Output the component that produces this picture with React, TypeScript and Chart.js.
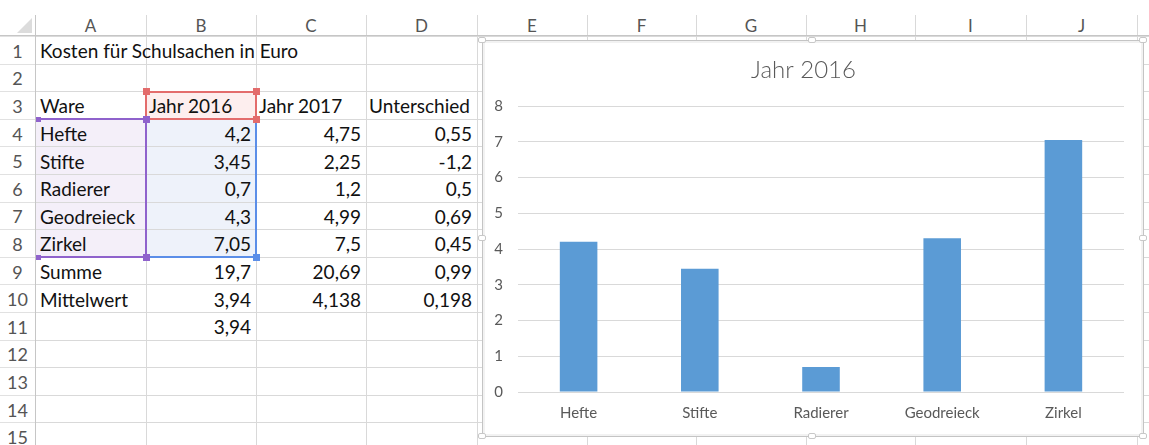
import React, { useEffect, useRef } from "react";
import { Chart, registerables } from "chart.js";

Chart.register(...registerables);

// ---- data ----
const categories = ["Hefte", "Stifte", "Radierer", "Geodreieck", "Zirkel"];
const jahr2016 = [4.2, 3.45, 0.7, 4.3, 7.05];
const jahr2017 = [4.75, 2.25, 1.2, 4.99, 7.5];
const unterschied = [0.55, -1.2, 0.5, 0.69, 0.45];
const summe = [19.7, 20.69, 0.99];
const mittelwert = [3.94, 4.138, 0.198];
const extraB11 = 3.94;
const headerRow = ["Ware", "Jahr 2016", "Jahr 2017", "Unterschied"];
const sheetTitle = "Kosten für Schulsachen in Euro";
const chartTitle = "Jahr 2016";
const columnLetters = ["A", "B", "C", "D", "E", "F", "G", "H", "I", "J", "K"];
const yMin = 0;
const yMax = 8;
const yStep = 1;

// ---- layout (pixels) ----
const COLS = [0, 35, 146, 256, 366, 477, 587, 696, 806, 915, 1026, 1137, 1247];
const HEAD_TOP = 15;
const HEAD_BOTTOM = 36;
const ROW_H = 27.6;
const rowTop = (r: number) => HEAD_BOTTOM + (r - 1) * ROW_H;
const CELL_FONT = "Lato, 'Open Sans', sans-serif";

const fmt = (v: number) => String(v).replace(".", ",");

type Cell = { r: number; c: number; text: string; align: "left" | "right" };

function buildCells(): Cell[] {
  const cells: Cell[] = [];
  cells.push({ r: 1, c: 1, text: sheetTitle, align: "left" });
  headerRow.forEach((h, i) => cells.push({ r: 3, c: i + 1, text: h, align: "left" }));
  categories.forEach((cat, i) => {
    const r = 4 + i;
    cells.push({ r, c: 1, text: cat, align: "left" });
    cells.push({ r, c: 2, text: fmt(jahr2016[i]), align: "right" });
    cells.push({ r, c: 3, text: fmt(jahr2017[i]), align: "right" });
    cells.push({ r, c: 4, text: fmt(unterschied[i]), align: "right" });
  });
  cells.push({ r: 9, c: 1, text: "Summe", align: "left" });
  summe.forEach((v, i) => cells.push({ r: 9, c: 2 + i, text: fmt(v), align: "right" }));
  cells.push({ r: 10, c: 1, text: "Mittelwert", align: "left" });
  mittelwert.forEach((v, i) => cells.push({ r: 10, c: 2 + i, text: fmt(v), align: "right" }));
  cells.push({ r: 11, c: 2, text: fmt(extraB11), align: "right" });
  return cells;
}

function Handle({ x, y, color, size = 7 }: { x: number; y: number; color: string; size?: number }) {
  return (
    <div
      style={{
        position: "absolute",
        left: x - size / 2,
        top: y - size / 2,
        width: size,
        height: size,
        background: color,
        zIndex: 5,
      }}
    />
  );
}

function FrameHandle({ x, y }: { x: number; y: number }) {
  return (
    <div
      style={{
        position: "absolute",
        left: x - 4,
        top: y - 3,
        width: 8,
        height: 6,
        background: "#fff",
        border: "1px solid #c8c8c8",
        borderRadius: 2,
        boxSizing: "border-box",
        zIndex: 12,
      }}
    />
  );
}

function BarChart() {
  const ref = useRef<HTMLCanvasElement | null>(null);
  useEffect(() => {
    if (!ref.current) return;
    const yTicks: number[] = [];
    for (let v = yMin; v <= yMax; v += yStep) yTicks.push(v);
    const chart = new Chart(ref.current, {
      type: "bar",
      data: {
        labels: categories,
        datasets: [
          {
            label: chartTitle,
            data: jahr2016,
            backgroundColor: "#5b9bd5",
            borderWidth: 0,
            barPercentage: 0.31,
            categoryPercentage: 1,
          },
        ],
      },
      options: {
        animation: false,
        responsive: false,
        maintainAspectRatio: false,
        layout: { padding: { left: 0, right: 18, top: 0, bottom: 0 } },
        plugins: {
          legend: { display: false },
          tooltip: { enabled: false },
          title: {
            display: true,
            text: chartTitle,
            color: "#595959",
            font: { family: CELL_FONT, size: 24, weight: "300" as any },
            padding: { top: 15, bottom: 21.2 },
          },
        },
        scales: {
          x: {
            grid: { display: false, drawTicks: false },
            border: { display: false },
            ticks: {
              color: "#595959",
              font: { family: CELL_FONT, size: 15 },
              padding: 12,
              maxRotation: 0,
            },
            afterFit: (s: any) => {
              s.height = 43;
            },
          },
          y: {
            min: yMin,
            max: yMax,
            afterBuildTicks: (s: any) => {
              s.ticks = yTicks.map((v) => ({ value: v }));
            },
            ticks: {
              color: "#595959",
              font: { family: CELL_FONT, size: 15 },
              padding: 15,
            },
            grid: { color: "#d9d9d9", lineWidth: 1, drawTicks: false },
            border: { display: false },
            afterFit: (s: any) => {
              s.width = 35;
            },
          },
        },
      },
    });
    return () => chart.destroy();
  }, []);
  return (
    <canvas
      ref={ref}
      width={659}
      height={394}
      style={{ position: "absolute", left: 0, top: 0, width: 659, height: 394 }}
    />
  );
}

export default function App() {
  const cells = buildCells();
  const rowNums = Array.from({ length: 15 }, (_, i) => i + 1);
  const lines: React.ReactNode[] = [];

  // horizontal gridlines
  for (let r = 1; r <= 16; r++) {
    const y = Math.round(rowTop(r));
    lines.push(
      <div key={"h" + r} style={{ position: "absolute", left: 35, top: y, width: 1149 - 35, height: 1, background: "#d9d9d9" }} />
    );
    lines.push(
      <div key={"hr" + r} style={{ position: "absolute", left: 0, top: y, width: 35, height: 1, background: "#e1e1e1" }} />
    );
  }
  // vertical gridlines
  COLS.slice(1).forEach((x, i) => {
    lines.push(
      <div key={"v" + i} style={{ position: "absolute", left: x, top: HEAD_TOP, width: 1, height: 445 - HEAD_TOP, background: i === 0 ? "#c6c6c6" : "#d9d9d9" }} />
    );
  });
  // header bottom
  lines.push(
    <div key="hb" style={{ position: "absolute", left: 0, top: HEAD_BOTTOM - 1, width: 1149, height: 1, background: "#c6c6c6" }} />
  );

  return (
    <div
      style={{
        position: "fixed",
        left: 0,
        top: 0,
        width: 1149,
        height: 445,
        overflow: "hidden",
        background: "#fff",
        fontFamily: CELL_FONT,
      }}
    >
      {/* fills */}
      <div style={{ position: "absolute", left: 36, top: rowTop(4), width: 110, height: ROW_H * 5, background: "#f4eff9" }} />
      <div style={{ position: "absolute", left: 146, top: rowTop(4), width: 110, height: ROW_H * 5, background: "#eef2fa" }} />
      <div style={{ position: "absolute", left: 146, top: rowTop(3), width: 110, height: ROW_H, background: "#fdeeee" }} />

      {lines}

      {/* top-left corner triangle */}
      <div
        style={{
          position: "absolute",
          left: 17,
          top: 18,
          width: 0,
          height: 0,
          borderLeft: "15px solid transparent",
          borderBottom: "15px solid #dcdcdc",
        }}
      />

      {/* column letters */}
      {columnLetters.map((l, i) => (
        <div
          key={l}
          style={{
            position: "absolute",
            left: COLS[i + 1],
            top: HEAD_TOP,
            width: COLS[i + 2] - COLS[i + 1],
            height: HEAD_BOTTOM - HEAD_TOP,
            display: "flex",
            alignItems: "center",
            justifyContent: "center",
            fontSize: 17,
            color: "#555",
          }}
        >
          {l}
        </div>
      ))}

      {/* row numbers */}
      {rowNums.map((n) => (
        <div
          key={n}
          style={{
            position: "absolute",
            left: 0,
            top: rowTop(n),
            width: 35,
            height: ROW_H,
            display: "flex",
            alignItems: "center",
            justifyContent: "center",
            paddingTop: 2,
            boxSizing: "border-box",
            fontSize: 18,
            color: "#555",
          }}
        >
          {n}
        </div>
      ))}

      {/* cells */}
      {cells.map((cell, i) => {
        const left = COLS[cell.c];
        const w = COLS[cell.c + 1] - left;
        return (
          <div
            key={i}
            style={{
              position: "absolute",
              left,
              top: rowTop(cell.r),
              width: cell.align === "left" ? 400 : w,
              height: ROW_H,
              display: "flex",
              alignItems: "center",
              justifyContent: cell.align === "left" ? "flex-start" : "flex-end",
              paddingLeft: cell.align === "left" ? (cell.c === 1 ? 5 : 3) : 0,
              paddingRight: cell.align === "right" ? 5 : 0,
              paddingTop: 2,
              boxSizing: "border-box",
              fontSize: 19,
              color: "#111",
              whiteSpace: "nowrap",
              zIndex: 3,
            }}
          >
            {cell.text}
          </div>
        );
      })}

      {/* selection borders */}
      <div
        style={{
          position: "absolute",
          left: 145,
          top: Math.round(rowTop(3)),
          width: 112,
          height: Math.round(rowTop(4)) - Math.round(rowTop(3)) + 1,
          border: "2px solid #e36c6c",
          boxSizing: "border-box",
          zIndex: 4,
        }}
      />
      <div style={{ position: "absolute", left: 255, top: Math.round(rowTop(4)), width: 2, height: Math.round(rowTop(9)) - Math.round(rowTop(4)) + 1, background: "#5b8ee8", zIndex: 4 }} />
      <div style={{ position: "absolute", left: 146, top: Math.round(rowTop(9)) - 1, width: 111, height: 2, background: "#5b8ee8", zIndex: 4 }} />
      <div style={{ position: "absolute", left: 36, top: Math.round(rowTop(4)) - 1, width: 111, height: 2, background: "#8f62cc", zIndex: 4 }} />
      <div style={{ position: "absolute", left: 145, top: Math.round(rowTop(4)), width: 2, height: Math.round(rowTop(9)) - Math.round(rowTop(4)), background: "#8f62cc", zIndex: 4 }} />
      <div style={{ position: "absolute", left: 36, top: Math.round(rowTop(9)) - 1, width: 111, height: 2, background: "#8f62cc", zIndex: 4 }} />

      <Handle x={146} y={Math.round(rowTop(3))} color="#e36c6c" />
      <Handle x={256} y={Math.round(rowTop(3))} color="#e36c6c" />
      <Handle x={256} y={Math.round(rowTop(4))} color="#e36c6c" />
      <Handle x={146} y={Math.round(rowTop(4))} color="#8f62cc" />
      <Handle x={146} y={Math.round(rowTop(9))} color="#8f62cc" />
      <Handle x={38} y={Math.round(rowTop(4))} color="#8f62cc" size={5} />
      <Handle x={38} y={Math.round(rowTop(9))} color="#8f62cc" size={5} />
      <Handle x={256} y={Math.round(rowTop(9))} color="#5b8ee8" />

      {/* chart object frame */}
      <div
        style={{
          position: "absolute",
          left: 482,
          top: 40,
          width: 662,
          height: 397,
          background: "#fff",
          border: "1px solid #c4c4c4",
          boxShadow: "inset 0 0 0 2px #f2f2f2",
          boxSizing: "border-box",
          zIndex: 10,
        }}
      >
        <div style={{ position: "absolute", left: 0, top: 0, width: 659, height: 394 }}>
          <BarChart />
        </div>
      </div>
      <FrameHandle x={482} y={40} />
      <FrameHandle x={812} y={40} />
      <FrameHandle x={1143} y={40} />
      <FrameHandle x={482} y={238} />
      <FrameHandle x={1143} y={238} />
      <FrameHandle x={482} y={436} />
      <FrameHandle x={812} y={436} />
      <FrameHandle x={1143} y={436} />
    </div>
  );
}
